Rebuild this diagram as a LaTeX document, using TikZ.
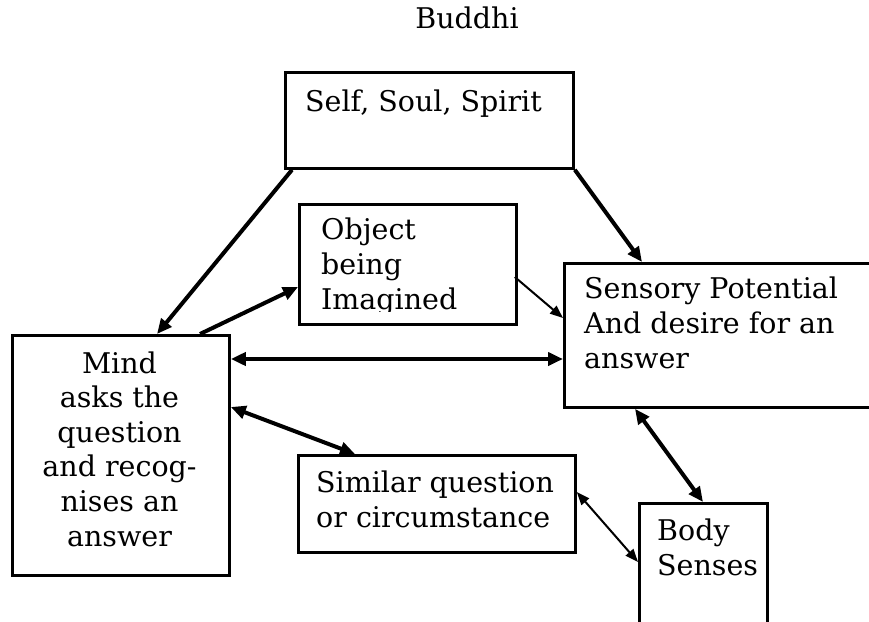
\documentclass[tikz,border=0pt]{standalone}
\usepackage{fontspec}
\setmainfont{DejaVu Serif}
\usetikzlibrary{arrows.meta,calc}

\tikzset{
  box/.style={draw, line width=2.8pt, anchor=north west, inner sep=0pt},
  lbl/.style={inner sep=0pt, font=\fontsize{28.5}{34.6}\selectfont},
  lbll/.style={lbl, anchor=base west, align=left},
  bold/.style={line width=4pt, -{Triangle[length=15pt,width=13pt]}},
  boldboth/.style={line width=4pt, {Triangle[length=15pt,width=13pt]}-{Triangle[length=15pt,width=13pt]}},
  thin/.style={line width=2pt, -{Triangle[length=13pt,width=10pt]}},
  thinboth/.style={line width=2pt, {Triangle[length=13pt,width=10pt]}-{Triangle[length=13pt,width=10pt]}}
}

\begin{document}
\begin{tikzpicture}[x=1pt, y=-1pt]
\useasboundingbox (0,0) rectangle (869,621);
\clip (0,0) rectangle (869,621);

% boxes
\node[box, minimum width=288, minimum height=96]  (self) at (284,71)  {};
\node[box, minimum width=217, minimum height=120] (obj)  at (298,203) {};
\node[box, minimum width=330, minimum height=144] (sens) at (563,262) {};
\node[box, minimum width=217, minimum height=240] (mind) at (11,334)  {};
\node[box, minimum width=277, minimum height=97]  (sim)  at (297,454) {};
\node[box, minimum width=128, minimum height=150] (body) at (638,502) {};

% labels (multi-line labels are placed by the baseline of their last line)
\node[lbl, anchor=base] (buddhi) at (467,28) {Buddhi};
\node[lbll] (selftext) at (305,111) {Self, Soul, Spirit};
\begin{scope}
  \clip (298,203) rectangle (515,311);
  \node[lbll] (objtext) at (321,309) {Object\\being\\Imagined};
\end{scope}
\node[lbll] (senstext) at (584,368) {Sensory Potential\\And desire for an\\answer};
\node[lbl, anchor=base, align=center] (mindtext) at (119.5,546)
  {Mind\\asks the\\question\\and recog-\\nises an\\answer};
\node[lbll] (simtext) at (316,527) {Similar question\\or circumstance};
\node[lbll] (bodytext) at (657,575) {Body\\Senses};

% connectors
\draw[bold] ($(self.south west)+(8,0)$) -- ($(mind.north west)+(146,0)$);
\draw[bold] (self.south east) -- ($(sens.north west)+(79,0)$);
\draw[bold] ($(mind.north west)+(189,0)$) -- ($(obj.north west)+(0,84)$);
\draw[thin] ($(obj.north east)+(-3,74)$) -- ($(sens.north west)+(0,56)$);
\draw[boldboth] ($(mind.north east)+(0,25)$) -- ($(sens.north west)+(0,97)$);
\draw[boldboth] ($(mind.north east)+(0,73)$) -- ($(sim.north west)+(58,0)$);
\draw[boldboth] ($(sens.south west)+(72,0)$) -- ($(body.north west)+(65,0)$);
\draw[thinboth] ($(sim.north east)+(0,38)$) -- ($(body.north west)+(0,60)$);
\end{tikzpicture}
\end{document}
